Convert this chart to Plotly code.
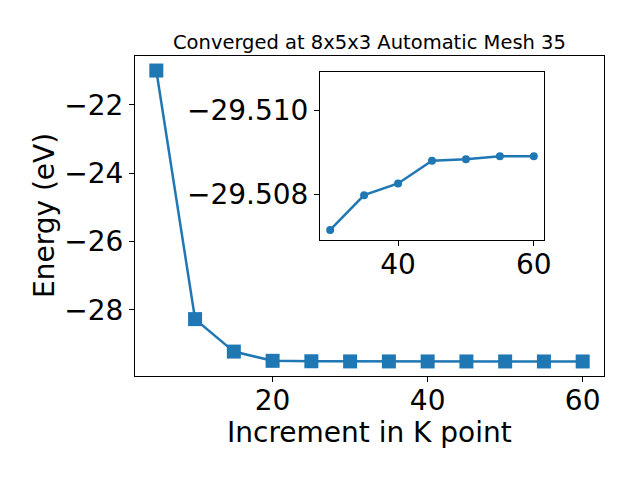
import plotly.graph_objects as go

kpoints = [5, 10, 15, 20, 25, 30, 35, 40, 45, 50, 55, 60]
energy = [-21.0, -28.27, -29.22, -29.49, -29.503, -29.50715, -29.50798, -29.50826,
          -29.5088, -29.50884, -29.50891, -29.50891]
inset_k = [30, 35, 40, 45, 50, 55, 60]
inset_energy = [-29.50715, -29.50798, -29.50826, -29.5088, -29.50884, -29.50891, -29.50891]

main_xticks = [20, 40, 60]
main_yticks = [-28, -26, -24, -22]
inset_xticks = [40, 60]
inset_yticks = [-29.510, -29.508]

title_text = "Converged at 8x5x3 Automatic Mesh 35"
xlabel = "Increment in K point"
ylabel = "Energy (eV)"

W, H = 640, 480
color = "#1f77b4"
font = "DejaVu Sans"

def fmt(v, nd=0):
    s = f"{abs(v):.{nd}f}"
    return ("\u2212" + s) if v < 0 else s

fig = go.Figure()
fig.add_trace(go.Scatter(x=kpoints, y=energy, mode="lines+markers",
                         line=dict(color=color, width=2.5),
                         marker=dict(symbol="square", size=14, color=color),
                         xaxis="x", yaxis="y", showlegend=False))
fig.add_trace(go.Scatter(x=inset_k, y=inset_energy, mode="lines+markers",
                         line=dict(color=color, width=2.5),
                         marker=dict(symbol="circle", size=8, color=color),
                         xaxis="x2", yaxis="y2", showlegend=False))

# main axes pixel box
L, R, T, B = 135, 604, 56, 376
# inset pixel box
iL, iR, iT, iB = 320, 544, 72, 240

axis_common = dict(showline=True, linecolor="black", linewidth=1, mirror=True,
                   ticks="outside", ticklen=5, tickwidth=1, tickcolor="black",
                   showgrid=False, zeroline=False,
                   tickfont=dict(family=font, size=28, color="black"))

xr = [2.25, 62.75]
yr = [-29.934, -20.575]

fig.update_layout(
    width=W, height=H, margin=dict(l=0, r=0, t=0, b=0, autoexpand=False),
    paper_bgcolor="white", plot_bgcolor="white",
    xaxis=dict(domain=[L / W, R / W], range=xr, anchor="y", ticklabelstandoff=-6,
               tickvals=main_xticks, ticktext=[fmt(v) for v in main_xticks], **axis_common),
    yaxis=dict(domain=[1 - B / H, 1 - T / H], range=yr, anchor="x",
               tickvals=main_yticks, ticktext=[fmt(v) for v in main_yticks], **axis_common),
    xaxis2=dict(domain=[iL / W, iR / W], range=[28.5, 61.5], anchor="y2", ticklabelstandoff=-6,
                tickvals=inset_xticks, ticktext=[fmt(v) for v in inset_xticks], **axis_common),
    yaxis2=dict(domain=[1 - iB / H, 1 - iT / H], range=[-29.50691, -29.51092], anchor="x2",
                tickvals=inset_yticks, ticktext=[fmt(v, 3) for v in inset_yticks], **axis_common),
    annotations=[
        dict(text=title_text, x=(L + R) / 2 / W, y=1 - 42 / H, xref="paper", yref="paper",
             xanchor="center", yanchor="middle", showarrow=False,
             font=dict(family=font, size=19.5, color="black")),
        dict(text=xlabel, x=(L + R) / 2 / W, y=1 - 432 / H, xref="paper", yref="paper",
             xanchor="center", yanchor="middle", showarrow=False,
             font=dict(family=font, size=28, color="black")),
        dict(text=ylabel, x=45 / W, y=1 - (T + B) / 2 / H, xref="paper", yref="paper",
             xanchor="center", yanchor="middle", showarrow=False, textangle=-90,
             font=dict(family=font, size=28, color="black")),
    ],
)

fig.write_html("out.html", config={"displayModeBar": False},
               post_script="document.body.style.margin='0';document.body.style.padding='0';"
                           "document.documentElement.style.overflow='hidden';")
